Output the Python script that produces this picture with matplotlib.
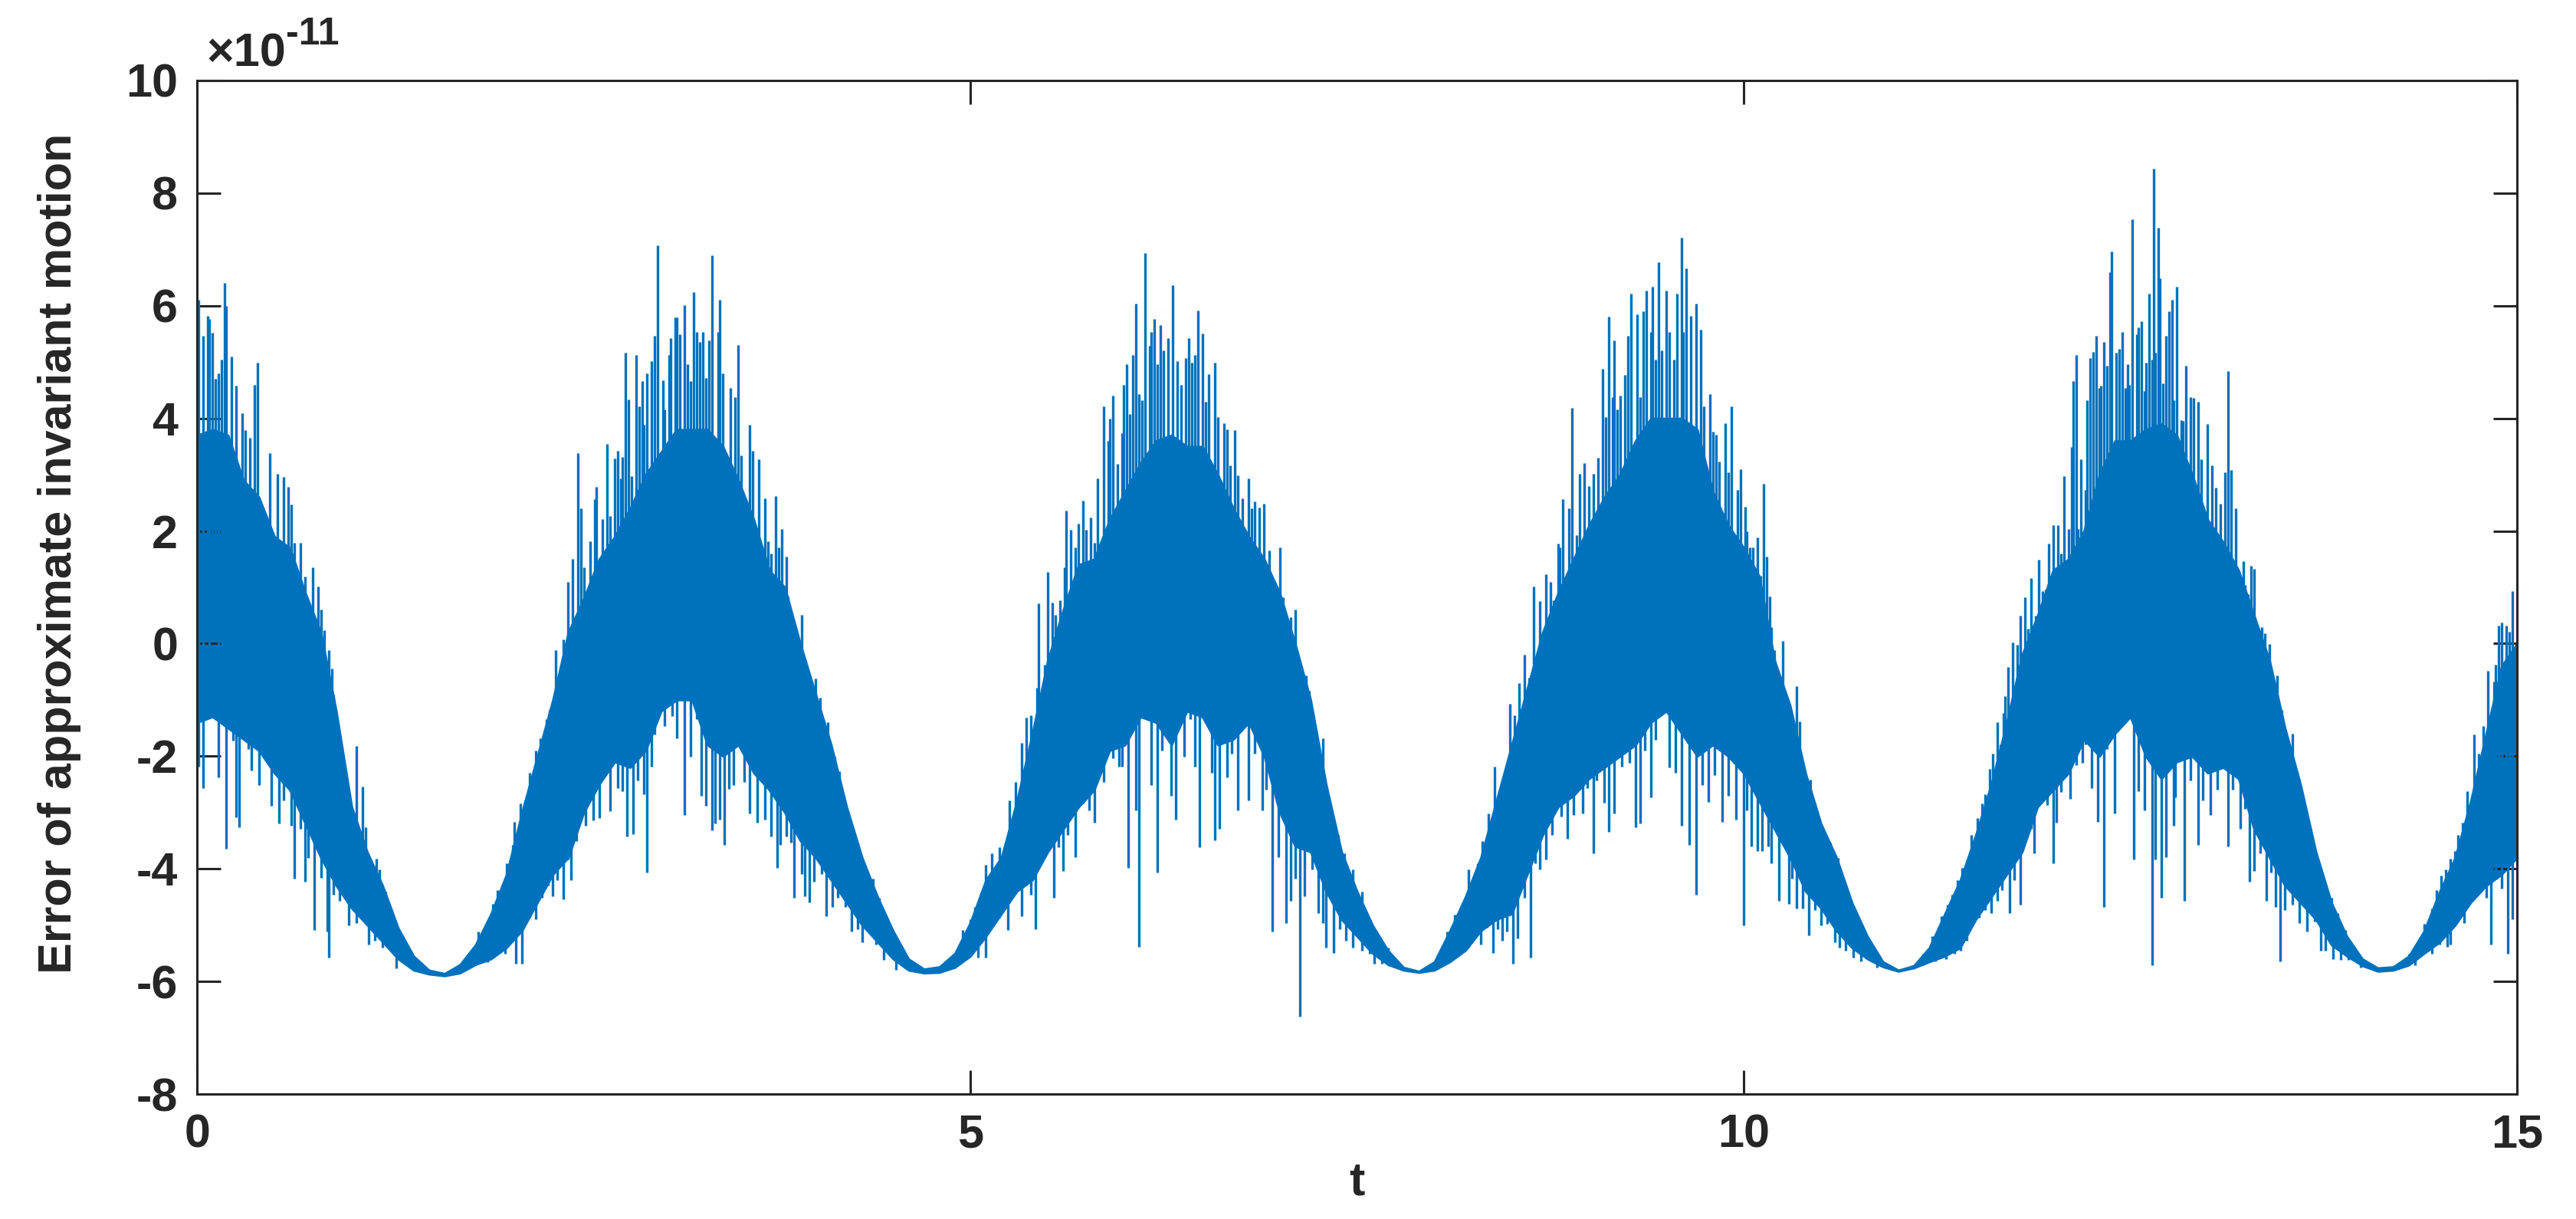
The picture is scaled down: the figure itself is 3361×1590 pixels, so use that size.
import numpy as np
import matplotlib
matplotlib.use('Agg')
import matplotlib.pyplot as plt

plt.rcParams.update({'font.family': ['Liberation Sans', 'DejaVu Sans'],
                     'font.weight': 'bold', 'font.size': 22,
                     'axes.unicode_minus': False})

# values are in units of 1e-11
# dense part of the trace, read every 0.1 in t
t_core = np.round(np.arange(0, 15.05, 0.1), 1)
core_hi = [3.7, 3.8, 3.7, 2.9, 2.6, 1.9, 1.7, 0.9, 0.2, -1.2,
           -2.9, -3.7, -4.3, -5.05, -5.55, -5.8, -5.86, -5.7, -5.35, -4.8,
           -4.1, -3.0, -2.0, -1.0, 0.2, 0.8, 1.5, 1.9, 2.4, 3.0,
           3.4, 3.8, 3.8, 3.8, 3.5, 2.9, 2.2, 1.3, 1.0, 0.0,
           -0.9, -1.8, -2.9, -3.8, -4.5, -5.1, -5.6, -5.78, -5.74, -5.5,
           -4.95, -4.2, -3.8, -2.8, -1.6, -0.3, 0.6, 1.4, 1.5, 2.2,
           2.7, 3.2, 3.6, 3.7, 3.5, 3.5, 3.0, 2.4, 1.9, 1.5,
           0.9, 0.0, -1.0, -2.5, -3.7, -4.4, -5.0, -5.45, -5.75, -5.82,
           -5.65, -5.1, -4.5, -3.8, -2.8, -1.8, -0.8, 0.2, 0.9, 1.5,
           2.1, 2.6, 3.0, 3.6, 4.0, 4.0, 4.0, 3.8, 2.7, 2.1,
           1.7, 1.2, -0.3, -1.1, -2.3, -3.2, -3.8, -4.6, -5.2, -5.65,
           -5.8, -5.72, -5.4, -4.8, -4.2, -3.4, -2.5, -1.4, -0.2, 0.5,
           1.3, 1.5, 2.0, 3.0, 3.6, 3.6, 3.8, 3.9, 3.7, 3.0,
           2.2, 1.8, 1.3, 0.5, -0.3, -1.5, -2.5, -3.7, -4.6, -5.2,
           -5.6, -5.76, -5.74, -5.55, -5.1, -4.4, -3.8, -2.8, -1.6, -0.4,
           0.0]
core_lo = [-1.4, -1.3, -1.5, -1.7, -1.9, -2.3, -2.6, -3.2, -3.8, -4.3,
           -4.7, -5.0, -5.3, -5.6, -5.8, -5.87, -5.9, -5.85, -5.7, -5.6,
           -5.4, -5.1, -4.6, -4.1, -3.8, -3.0, -2.5, -2.1, -2.2, -1.9,
           -1.2, -1.0, -1.0, -1.8, -2.0, -1.8, -2.3, -2.6, -3.0, -3.5,
           -3.8, -4.2, -4.6, -5.0, -5.3, -5.6, -5.8, -5.85, -5.84, -5.75,
           -5.55, -5.2, -4.8, -4.4, -4.2, -3.7, -3.3, -2.9, -2.6, -1.9,
           -1.8, -1.3, -1.4, -1.8, -1.2, -1.3, -1.8, -1.7, -1.4, -2.0,
           -3.0, -3.6, -3.7, -4.4, -4.9, -5.2, -5.5, -5.7, -5.8, -5.84,
           -5.8, -5.65, -5.45, -5.1, -4.9, -4.8, -4.1, -3.4, -2.9, -2.7,
           -2.4, -2.2, -2.0, -1.8, -1.4, -1.2, -1.6, -2.0, -1.8, -2.0,
           -2.3, -2.8, -3.3, -3.8, -4.4, -4.7, -5.1, -5.4, -5.6, -5.74,
           -5.82, -5.76, -5.65, -5.55, -5.4, -4.9, -4.5, -4.1, -3.7, -2.9,
           -2.6, -2.3, -1.7, -2.0, -1.6, -1.3, -2.0, -2.4, -2.1, -2.0,
           -2.3, -2.2, -2.4, -3.3, -3.8, -4.3, -4.6, -4.9, -5.35, -5.55,
           -5.72, -5.82, -5.8, -5.71, -5.5, -5.3, -5.0, -4.6, -4.3, -4.1,
           -3.8]

# tips of the upward spikes (t, value)
spikes_up = [
    (0.01, 6.1), (0.04, 5.47), (0.07, 5.82), (0.08, 5.77), (0.10, 5.52), (0.12, 4.7),
    (0.14, 4.8), (0.16, 5.04), (0.18, 6.4), (0.19, 6.0), (0.22, 5.1), (0.25, 4.58),
    (0.29, 4.09), (0.31, 3.79), (0.34, 3.66), (0.37, 4.6), (0.39, 4.99), (0.41, 2.52),
    (0.44, 1.9), (0.47, 3.38), (0.52, 3.01), (0.56, 2.96), (0.59, 2.78), (0.61, 2.47),
    (0.63, 1.79), (0.67, 1.79), (0.70, 1.19), (0.72, 0.63), (0.75, 1.36), (0.78, 1.01),
    (0.80, 0.6), (0.82, 0.24), (0.85, -0.11), (0.87, -0.44), (0.88, -0.9), (0.90, -1.42),
    (0.92, -1.73), (0.94, -1.98), (0.96, -2.3), (0.98, -2.68), (1.00, -2.96), (1.03, -1.82),
    (1.07, -2.54), (1.09, -3.26), (1.11, -3.79), (1.16, -3.82), (1.18, -4.01), (1.22, -4.4),
    (1.26, -4.73), (1.29, -5.03), (1.33, -5.21), (1.38, -5.46), (1.43, -5.69), (1.49, -5.81),
    (1.72, -5.64), (1.77, -5.51), (1.82, -5.12), (1.87, -5.07), (1.91, -4.62), (1.94, -4.38),
    (1.97, -4.29), (2.00, -3.9), (2.04, -3.57), (2.05, -3.16), (2.09, -2.84), (2.12, -2.79),
    (2.15, -2.29), (2.19, -1.9), (2.22, -1.68), (2.26, -1.34), (2.28, -1.18), (2.32, -0.12),
    (2.34, -0.68), (2.37, 0.07), (2.40, 1.1), (2.43, 1.51), (2.46, 3.38), (2.48, 2.4),
    (2.50, 1.36), (2.51, 0.88), (2.54, 1.82), (2.57, 2.57), (2.58, 2.79), (2.62, 2.21),
    (2.65, 3.54), (2.67, 2.27), (2.70, 3.29), (2.72, 3.43), (2.74, 2.93), (2.75, 3.32),
    (2.77, 5.16), (2.79, 4.34), (2.81, 2.97), (2.84, 5.12), (2.86, 4.21), (2.88, 4.66),
    (2.89, 3.88), (2.91, 4.8), (2.94, 5.01), (2.96, 5.46), (2.98, 7.07), (3.01, 4.68),
    (3.02, 4.16), (3.05, 5.13), (3.06, 5.43), (3.09, 5.79), (3.10, 5.79), (3.12, 5.49),
    (3.15, 6.01), (3.17, 4.96), (3.19, 4.66), (3.21, 6.24), (3.23, 5.54), (3.25, 5.36),
    (3.27, 5.54), (3.29, 4.71), (3.31, 5.38), (3.33, 6.9), (3.37, 5.54), (3.38, 6.1),
    (3.40, 4.8), (3.45, 4.54), (3.48, 4.38), (3.50, 5.3), (3.52, 3.34), (3.57, 3.88),
    (3.59, 3.43), (3.63, 3.27), (3.67, 2.58), (3.69, 1.82), (3.71, 1.6), (3.74, 2.62),
    (3.76, 1.71), (3.78, 2.04), (3.81, 1.54), (3.82, 0.84), (3.86, 0.38), (3.87, -0.18),
    (3.91, 0.51), (3.93, -0.68), (3.96, -0.73), (4.00, -0.62), (4.03, -0.96), (4.05, -1.34),
    (4.08, -1.4), (4.12, -2.01), (4.15, -2.27), (4.19, -2.84), (4.22, -3.16), (4.27, -3.53),
    (4.32, -4.01), (4.37, -4.18), (4.41, -4.51), (4.43, -4.84), (4.49, -5.12), (4.54, -5.42),
    (4.59, -5.62), (4.64, -5.76), (4.81, -5.73), (4.89, -5.51), (4.95, -5.09), (5.00, -4.9),
    (5.03, -4.68), (5.07, -4.42), (5.10, -3.93), (5.14, -3.73), (5.19, -3.62), (5.23, -3.62),
    (5.25, -2.79), (5.29, -2.46), (5.33, -1.76), (5.36, -1.31), (5.39, -1.27), (5.43, -0.79),
    (5.44, 0.71), (5.48, -0.37), (5.50, 1.27), (5.53, 0.73), (5.55, 0.51), (5.58, 0.77),
    (5.61, 1.36), (5.62, 2.36), (5.65, 2.02), (5.68, 1.71), (5.70, 2.13), (5.73, 2.54),
    (5.75, 2.02), (5.78, 2.24), (5.80, 1.79), (5.82, 2.93), (5.86, 4.21), (5.89, 3.6),
    (5.90, 3.99), (5.92, 4.4), (5.95, 3.19), (5.98, 3.73), (5.99, 4.6), (6.01, 4.96),
    (6.03, 4.07), (6.05, 5.13), (6.07, 6.04), (6.09, 4.43), (6.11, 4.32), (6.13, 6.93),
    (6.16, 5.29), (6.17, 5.54), (6.19, 5.77), (6.21, 4.96), (6.23, 5.66), (6.25, 5.21),
    (6.28, 5.43), (6.31, 6.36), (6.34, 5.01), (6.36, 4.6), (6.39, 5.07), (6.41, 5.43),
    (6.43, 4.99), (6.45, 5.12), (6.47, 5.91), (6.50, 5.51), (6.52, 4.3), (6.54, 4.79),
    (6.58, 4.99), (6.60, 4.02), (6.64, 3.91), (6.66, 3.8), (6.68, 3.16), (6.71, 3.79),
    (6.73, 2.99), (6.76, 2.58), (6.80, 2.93), (6.82, 2.4), (6.84, 2.52), (6.87, 2.41),
    (6.90, 2.49), (6.93, 1.66), (6.96, 1.02), (7.00, 1.71), (7.02, 0.82), (7.05, 0.1),
    (7.07, 0.47), (7.10, 0.6), (7.13, -0.48), (7.17, -0.57), (7.19, -0.84), (7.21, -1.31),
    (7.23, -2.01), (7.28, -1.68), (7.32, -3.01), (7.38, -3.4), (7.42, -3.73), (7.47, -4.01),
    (7.50, -4.49), (7.53, -4.4), (7.56, -4.79), (7.60, -5.07), (7.65, -5.34), (7.70, -5.4),
    (7.75, -5.68), (8.03, -5.51), (8.08, -5.12), (8.13, -4.82), (8.17, -4.73), (8.22, -4.01),
    (8.26, -4.12), (8.28, -3.9), (8.31, -3.51), (8.35, -3.01), (8.39, -2.18), (8.42, -2.62),
    (8.45, -2.49), (8.49, -1.07), (8.52, -1.27), (8.55, -0.7), (8.58, -0.2), (8.61, -0.6),
    (8.64, 1.02), (8.66, -0.38), (8.68, 0.76), (8.72, 1.23), (8.75, 1.1), (8.77, 0.77),
    (8.80, 1.77), (8.81, 1.71), (8.83, 2.57), (8.87, 2.4), (8.89, 4.18), (8.92, 1.93),
    (8.94, 3.01), (8.97, 3.21), (9.00, 2.8), (9.03, 3.01), (9.06, 3.3), (9.09, 4.88),
    (9.11, 4.02), (9.13, 5.8), (9.15, 4.38), (9.16, 5.38), (9.18, 4.16), (9.20, 4.4),
    (9.23, 4.77), (9.25, 5.46), (9.27, 6.21), (9.31, 5.84), (9.33, 4.38), (9.35, 5.9),
    (9.37, 6.27), (9.40, 5.54), (9.41, 6.34), (9.43, 5.04), (9.45, 6.77), (9.47, 5.21),
    (9.50, 6.27), (9.52, 5.54), (9.55, 5.04), (9.57, 6.21), (9.60, 7.21), (9.61, 5.54),
    (9.63, 6.66), (9.66, 5.82), (9.69, 6.04), (9.72, 5.58), (9.74, 4.21), (9.78, 4.43),
    (9.80, 3.77), (9.82, 3.71), (9.84, 3.23), (9.88, 3.91), (9.90, 3.04), (9.92, 4.21),
    (9.94, 1.46), (9.96, 2.73), (9.98, 3.1), (10.01, 2.43), (10.02, 1.99), (10.04, 1.71),
    (10.06, 1.71), (10.09, 1.88), (10.11, 1.21), (10.13, 2.84), (10.15, 1.54), (10.17, 0.84),
    (10.18, 0.29), (10.20, -0.12), (10.21, -0.46), (10.25, 0.04), (10.28, -1.04), (10.31, -1.29),
    (10.34, -0.76), (10.36, -1.38), (10.38, -2.16), (10.40, -2.9), (10.43, -2.42), (10.46, -2.84),
    (10.50, -3.42), (10.52, -3.49), (10.56, -3.53), (10.58, -3.9), (10.61, -3.8), (10.63, -4.23),
    (10.65, -4.49), (10.69, -4.64), (10.73, -4.96), (10.78, -5.31), (10.83, -5.51), (10.89, -5.68),
    (11.09, -5.71), (11.16, -5.51), (11.22, -5.2), (11.28, -4.84), (11.32, -4.64), (11.35, -4.46),
    (11.38, -4.2), (11.41, -3.98), (11.43, -3.96), (11.47, -3.4), (11.51, -3.1), (11.54, -2.84),
    (11.56, -2.68), (11.59, -2.23), (11.61, -1.96), (11.64, -1.4), (11.66, -1.79), (11.68, -1.23),
    (11.69, -0.93), (11.71, -0.42), (11.74, 0.02), (11.77, -0.02), (11.79, 0.49), (11.82, 0.82),
    (11.84, 0.27), (11.86, 1.16), (11.89, 0.49), (11.91, 1.49), (11.93, 0.93), (11.95, 0.96),
    (11.97, 1.77), (12.00, 2.1), (12.03, 2.1), (12.05, 1.6), (12.07, 2.97), (12.10, 2.04),
    (12.12, 3.49), (12.13, 4.66), (12.15, 5.12), (12.16, 2.04), (12.18, 3.27), (12.21, 2.73),
    (12.22, 4.32), (12.24, 5.07), (12.26, 5.18), (12.28, 5.47), (12.30, 4.54), (12.31, 4.58),
    (12.33, 5.36), (12.35, 4.93), (12.37, 6.6), (12.38, 6.96), (12.41, 5.16), (12.43, 5.24),
    (12.45, 5.54), (12.47, 4.54), (12.48, 4.96), (12.49, 4.6), (12.51, 7.54), (12.54, 5.49),
    (12.55, 5.62), (12.57, 5.73), (12.59, 4.49), (12.60, 4.99), (12.62, 6.21), (12.64, 5.04),
    (12.65, 8.44), (12.66, 5.16), (12.68, 7.38), (12.69, 6.49), (12.71, 4.62), (12.73, 5.47),
    (12.75, 5.9), (12.77, 6.1), (12.78, 4.32), (12.80, 6.34), (12.83, 3.97), (12.84, 3.96),
    (12.86, 4.93), (12.89, 4.38), (12.91, 4.36), (12.94, 4.3), (12.96, 3.27), (12.97, 2.32),
    (13.00, 3.9), (13.03, 3.16), (13.05, 2.77), (13.08, 2.49), (13.09, 1.51), (13.11, 3.04),
    (13.13, 4.84), (13.15, 3.08), (13.18, 2.4), (13.20, 1.21), (13.23, 1.46), (13.24, 1.04),
    (13.26, 0.88), (13.28, 1.38), (13.30, 1.32), (13.32, -0.29), (13.35, 0.29), (13.37, 0.18),
    (13.40, -0.01), (13.42, -0.73), (13.45, -0.57), (13.48, -1.18), (13.49, -1.68), (13.52, -2.04),
    (13.55, -1.6), (13.58, -2.27), (13.62, -2.82), (13.63, -3.16), (13.66, -3.57), (13.69, -3.82),
    (13.73, -3.98), (13.76, -4.4), (13.80, -4.51), (13.84, -4.79), (13.89, -5.09), (13.94, -5.42),
    (14.01, -5.62), (14.24, -5.71), (14.30, -5.51), (14.36, -5.34), (14.40, -4.98), (14.45, -4.71),
    (14.48, -4.38), (14.51, -4.12), (14.54, -4.01), (14.57, -3.82), (14.60, -3.68), (14.62, -3.4),
    (14.65, -3.18), (14.68, -2.62), (14.72, -1.62), (14.75, -1.96), (14.78, -1.46), (14.81, -0.49),
    (14.83, -1.29), (14.85, -0.68), (14.86, -0.38), (14.88, 0.32), (14.90, 0.38), (14.93, 0.32),
    (14.95, 0.21), (14.97, 0.93), (14.99, -0.18),
]

# tips of the downward spikes (t, value)
spikes_down = [
    (0.01, -2.18), (0.04, -2.57), (0.08, -1.23), (0.14, -2.38), (0.19, -3.64), (0.23, -1.73),
    (0.25, -3.09), (0.27, -3.26), (0.33, -1.87), (0.35, -2.26), (0.40, -2.51), (0.48, -2.88),
    (0.53, -3.19), (0.56, -2.79), (0.61, -3.23), (0.63, -4.18), (0.67, -3.29), (0.70, -4.23),
    (0.72, -3.81), (0.76, -5.09), (0.80, -4.16), (0.84, -5.12), (0.85, -5.57), (0.88, -4.46),
    (0.92, -4.57), (0.98, -5.01), (1.03, -4.96), (1.06, -4.84), (1.11, -5.34), (1.15, -5.27),
    (1.20, -5.4), (1.29, -5.77), (1.88, -5.66), (1.99, -5.51), (2.06, -5.68), (2.10, -5.68),
    (2.15, -4.87), (2.19, -4.9), (2.23, -4.51), (2.27, -4.29), (2.30, -4.49), (2.33, -4.2),
    (2.37, -4.54), (2.40, -3.84), (2.42, -4.2), (2.45, -3.51), (2.51, -3.23), (2.56, -3.14),
    (2.60, -3.1), (2.67, -2.98), (2.72, -2.57), (2.75, -2.62), (2.78, -3.42), (2.82, -3.38),
    (2.85, -2.43), (2.89, -2.68), (2.91, -4.07), (2.94, -2.18), (2.96, -1.62), (3.02, -1.46),
    (3.07, -1.29), (3.10, -1.68), (3.15, -3.04), (3.19, -2.01), (3.23, -1.34), (3.26, -2.7),
    (3.29, -2.88), (3.33, -3.31), (3.35, -3.2), (3.38, -3.12), (3.41, -3.58), (3.44, -2.58),
    (3.47, -2.51), (3.49, -1.29), (3.54, -2.46), (3.57, -3.01), (3.62, -3.18), (3.67, -3.12),
    (3.71, -3.42), (3.75, -3.99), (3.77, -3.57), (3.81, -3.42), (3.84, -3.53), (3.86, -4.51),
    (3.91, -4.09), (3.93, -4.49), (3.96, -4.6), (3.99, -4.23), (4.04, -4.09), (4.07, -4.84),
    (4.11, -4.68), (4.14, -4.51), (4.19, -4.68), (4.23, -5.12), (4.27, -5.07), (4.30, -5.31),
    (4.35, -5.12), (4.39, -5.34), (4.44, -5.62), (4.52, -5.79), (5.01, -5.51), (5.05, -5.57),
    (5.10, -5.57), (5.15, -4.98), (5.19, -4.87), (5.24, -5.09), (5.29, -4.4), (5.33, -4.84),
    (5.39, -4.46), (5.42, -5.07), (5.49, -3.73), (5.54, -4.51), (5.57, -3.62), (5.60, -4.04),
    (5.63, -3.4), (5.68, -3.79), (5.73, -2.84), (5.77, -2.96), (5.80, -3.18), (5.86, -2.46),
    (5.90, -1.62), (5.92, -2.04), (5.96, -2.18), (5.98, -2.18), (6.02, -3.99), (6.07, -2.96),
    (6.09, -5.38), (6.14, -1.18), (6.17, -2.51), (6.21, -4.07), (6.24, -1.9), (6.30, -2.71),
    (6.33, -3.12), (6.38, -2.01), (6.42, -1.34), (6.45, -2.18), (6.48, -3.62), (6.52, -1.38),
    (6.56, -2.29), (6.58, -3.49), (6.61, -3.29), (6.66, -2.38), (6.69, -1.96), (6.73, -2.96),
    (6.76, -1.51), (6.80, -2.79), (6.84, -1.96), (6.89, -2.96), (6.91, -2.6), (6.95, -5.12),
    (6.99, -3.79), (7.04, -4.96), (7.07, -4.57), (7.10, -4.18), (7.13, -6.62), (7.16, -4.49),
    (7.21, -4.01), (7.25, -4.79), (7.28, -4.96), (7.30, -5.4), (7.35, -5.49), (7.39, -5.07),
    (7.43, -5.27), (7.47, -5.4), (7.53, -5.46), (7.58, -5.51), (7.61, -5.68), (7.66, -5.68),
    (7.71, -5.73), (8.11, -5.62), (8.22, -5.4), (8.30, -5.34), (8.34, -5.04), (8.38, -5.49),
    (8.41, -5.07), (8.44, -5.27), (8.47, -5.12), (8.51, -5.68), (8.54, -5.23), (8.58, -4.51),
    (8.62, -5.57), (8.65, -3.9), (8.68, -4.01), (8.72, -3.84), (8.76, -3.4), (8.82, -3.07),
    (8.86, -3.46), (8.90, -3.04), (8.96, -3.01), (8.99, -2.57), (9.03, -3.73), (9.05, -2.43),
    (9.10, -2.82), (9.13, -3.34), (9.16, -3.01), (9.21, -2.18), (9.26, -2.12), (9.30, -3.26),
    (9.33, -3.2), (9.36, -1.9), (9.40, -2.73), (9.43, -1.71), (9.46, -1.27), (9.52, -2.2),
    (9.56, -2.29), (9.60, -3.23), (9.65, -3.57), (9.69, -4.46), (9.73, -2.51), (9.77, -2.81),
    (9.81, -2.34), (9.86, -3.16), (9.90, -2.71), (9.95, -3.12), (10.00, -5.01), (10.02, -2.96),
    (10.05, -3.6), (10.09, -3.68), (10.12, -3.68), (10.16, -3.6), (10.18, -3.9), (10.23, -4.57),
    (10.26, -3.53), (10.29, -4.62), (10.31, -4.18), (10.34, -4.71), (10.38, -4.71), (10.42, -5.18),
    (10.46, -4.73), (10.50, -5.01), (10.54, -4.98), (10.59, -5.31), (10.62, -5.4), (10.66, -5.46),
    (10.71, -5.57), (10.76, -5.64), (10.86, -5.76), (11.16, -5.71), (11.24, -5.64), (11.31, -5.6),
    (11.36, -5.51), (11.40, -5.46), (11.44, -5.27), (11.47, -4.98), (11.52, -4.87), (11.56, -4.73),
    (11.60, -4.79), (11.64, -4.57), (11.67, -4.38), (11.72, -4.79), (11.75, -4.2), (11.79, -4.64),
    (11.83, -3.4), (11.86, -3.29), (11.88, -3.73), (11.92, -2.84), (11.96, -2.87), (12.00, -3.9),
    (12.02, -3.18), (12.05, -2.64), (12.11, -2.76), (12.15, -2.16), (12.19, -2.12), (12.21, -1.79),
    (12.25, -2.57), (12.29, -3.16), (12.33, -4.68), (12.35, -1.87), (12.40, -3.01), (12.44, -1.12),
    (12.47, -1.2), (12.52, -3.84), (12.55, -2.62), (12.59, -2.96), (12.64, -5.71), (12.66, -3.84),
    (12.70, -4.51), (12.73, -3.79), (12.78, -3.23), (12.79, -2.73), (12.85, -4.57), (12.89, -2.43),
    (12.94, -3.57), (12.97, -2.79), (13.02, -3.04), (13.06, -2.6), (13.13, -3.6), (13.16, -2.6),
    (13.21, -3.29), (13.24, -2.93), (13.27, -4.23), (13.30, -4.04), (13.34, -3.73), (13.38, -4.57),
    (13.41, -4.07), (13.44, -4.68), (13.47, -5.64), (13.50, -4.73), (13.55, -4.64), (13.59, -4.96),
    (13.64, -5.12), (13.69, -4.93), (13.73, -5.46), (13.76, -5.46), (13.81, -5.6), (13.86, -5.62),
    (13.91, -5.62), (13.99, -5.76), (14.29, -5.71), (14.34, -5.71), (14.40, -5.49), (14.45, -5.51),
    (14.50, -5.34), (14.55, -5.38), (14.57, -5.34), (14.63, -4.9), (14.66, -4.96), (14.71, -4.57),
    (14.76, -4.42), (14.80, -4.51), (14.83, -5.34), (14.86, -4.09), (14.90, -4.35), (14.94, -5.51),
    (14.97, -4.9),
]

x_ticks = [0, 5, 10, 15]
y_ticks = [-8, -6, -4, -2, 0, 2, 4, 6, 8, 10]

blue = '#0072BD'
ink = '#262626'

fig = plt.figure(figsize=(3361 / 200, 1590 / 200), dpi=200, facecolor='w')
ax = fig.add_axes([0.0765, 0.1025, 0.9006, 0.8315])

core_hi = np.array(core_hi)
core_lo = np.array(core_lo)
mid = (core_hi + core_lo) / 2
up_t, up_v = np.array(spikes_up).T
dn_t, dn_v = np.array(spikes_down).T

ax.fill_between(t_core, core_lo, core_hi, color=blue, lw=1.0)
ax.vlines(up_t, np.interp(up_t, t_core, mid), up_v, color=blue, lw=1.2)
ax.vlines(dn_t, dn_v, np.interp(dn_t, t_core, mid), color=blue, lw=1.2)

ax.set_xlim(0, 15)
ax.set_ylim(-8, 10)
ax.set_xticks(x_ticks)
ax.set_yticks(y_ticks)
ax.tick_params(direction='in', length=11, width=1.1, top=True, right=True,
               colors=ink, labelsize=22)
ax.tick_params(axis='x', pad=9)
ax.tick_params(axis='y', pad=9)
for s in ax.spines.values():
    s.set_linewidth(1.1)
    s.set_color(ink)

ax.set_xlabel('t', fontsize=22, fontweight='bold', color=ink, labelpad=2)
ax.set_ylabel('Error of approximate invariant motion', fontsize=22, fontweight='bold',
              color=ink)
ax.yaxis.set_label_coords(-0.05, 0.533)

base = ax.text(0.004, 1.004, '\u00d710', transform=ax.transAxes, ha='left', va='bottom',
               fontsize=22, fontweight='bold', color=ink)
ax.annotate('-11', xy=(1.0, 0.55), xycoords=base, ha='left', va='bottom',
            fontsize=18, fontweight='bold', color=ink)

fig.savefig('out.png', dpi=200, facecolor='w')
